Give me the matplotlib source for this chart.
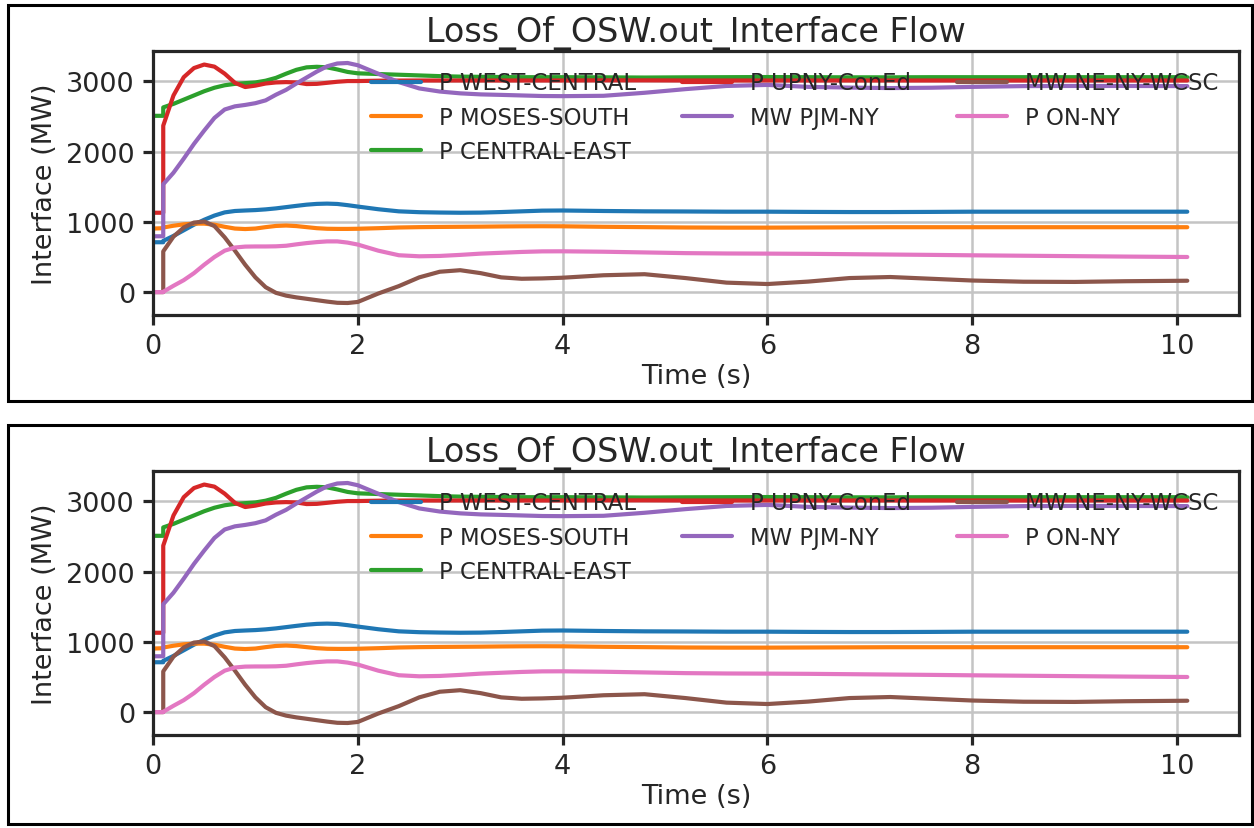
import numpy as np
import matplotlib
matplotlib.use("Agg")
import matplotlib.pyplot as plt
import seaborn as sns
from matplotlib.patches import Rectangle

sns.set_style("ticks", {"axes.grid": True})
plt.rcParams['font.family'] = ['DejaVu Sans']

# time base (s); 0.1 appears twice for the step at fault application
time_s = [0, 0.1, 0.1, 0.2, 0.3, 0.4, 0.5, 0.6, 0.7, 0.8, 0.9, 1.0, 1.1, 1.2, 1.3,
          1.4, 1.5, 1.6, 1.7, 1.8, 1.9, 2.0, 2.2, 2.4, 2.6, 2.8, 3.0, 3.2, 3.4, 3.6,
          3.8, 4.0, 4.4, 4.8, 5.2, 5.6, 6.0, 6.4, 6.8, 7.2, 7.6, 8.0, 8.5, 9.0, 9.5, 10.1]

west_central = [710, 710, 730, 800, 880, 960, 1030, 1090, 1135, 1155, 1162, 1168, 1178,
                1192, 1210, 1228, 1245, 1256, 1260, 1255, 1238, 1218, 1180, 1150, 1138,
                1133, 1130, 1132, 1140, 1150, 1160, 1162, 1155, 1150, 1148, 1145, 1145,
                1142, 1140, 1140, 1142, 1145, 1145, 1145, 1145, 1145]
moses_south = [905, 910, 920, 945, 965, 975, 975, 960, 930, 905, 898, 905, 925, 942, 948,
               940, 925, 910, 902, 900, 900, 902, 910, 920, 925, 928, 930, 932, 935, 937,
               938, 937, 930, 925, 920, 918, 918, 920, 922, 924, 924, 924, 924, 924, 924, 924]
central_east = [2510, 2510, 2630, 2680, 2740, 2800, 2860, 2910, 2945, 2965, 2975, 2985,
                3010, 3050, 3110, 3165, 3200, 3208, 3200, 3170, 3135, 3115, 3105, 3095,
                3085, 3075, 3068, 3065, 3062, 3060, 3060, 3060, 3058, 3055, 3058, 3060,
                3062, 3060, 3058, 3058, 3060, 3060, 3060, 3060, 3060, 3060]
upny_coned = [1130, 1130, 2370, 2800, 3060, 3190, 3240, 3210, 3110, 2980, 2920, 2940,
              2970, 2985, 2990, 2985, 2962, 2965, 2980, 2995, 3005, 3005, 3010, 3012,
              3013, 3013, 3013, 3013, 3013, 3013, 3013, 3013, 3015, 3015, 3013, 3013,
              3013, 3013, 3013, 3013, 3013, 3013, 3013, 3013, 3013, 3013]
pjm_ny = [795, 795, 1535, 1700, 1900, 2110, 2300, 2480, 2600, 2645, 2665, 2690, 2730,
          2810, 2880, 2970, 3055, 3140, 3215, 3255, 3262, 3230, 3109, 2990, 2900, 2856,
          2830, 2815, 2808, 2800, 2792, 2790, 2795, 2838, 2890, 2935, 2950, 2922, 2912,
          2905, 2910, 2922, 2933, 2935, 2935, 2933]
ne_ny_wcsc = [0, 0, 580, 790, 920, 990, 1005, 940, 780, 590, 390, 210, 70, -10, -50, -75,
              -95, -115, -135, -152, -155, -140, -20, 85, 210, 290, 312, 270, 210, 190,
              195, 205, 240, 255, 200, 135, 115, 150, 200, 215, 190, 165, 148, 145, 155, 162]
on_ny = [0, 0, 5, 90, 170, 270, 390, 500, 590, 635, 648, 650, 650, 652, 660, 680, 698,
         712, 722, 722, 705, 677, 590, 525, 510, 515, 530, 548, 560, 572, 580, 581, 575,
         565, 555, 550, 548, 545, 540, 535, 530, 524, 518, 512, 506, 500]

series = [
    ("P WEST-CENTRAL", west_central),
    ("P MOSES-SOUTH", moses_south),
    ("P CENTRAL-EAST", central_east),
    ("P UPNY-ConEd", upny_coned),
    ("MW PJM-NY", pjm_ny),
    ("MW NE-NY-WCSC", ne_ny_wcsc),
    ("P ON-NY", on_ny),
]
colors = sns.color_palette("tab10")
title = "Loss_Of_OSW.out_Interface Flow"

W, H = 1254, 829
fig = plt.figure(figsize=(W / 100, H / 100), dpi=100)

ink = "#262626"


def draw_panel(top_px):
    ax = fig.add_axes([153 / W, 1 - (top_px + 264) / H, 1086 / W, 264 / H])
    for (label, vals), c in zip(series, colors):
        ax.plot(time_s, vals, color=c, lw=3.0, label=label, solid_joinstyle="round")
    ax.set_xlim(left=0)
    ax.set_xticks([0, 2, 4, 6, 8, 10])
    ax.set_yticks([0, 1000, 2000, 3000])
    ax.grid(True, color="#c4c4c4", lw=1.8)
    for sp in ax.spines.values():
        sp.set_linewidth(2.3)
        sp.set_color(ink)
    ax.tick_params(labelsize=19.5, length=7, width=2.3, color=ink, labelcolor=ink, pad=6)
    ax.set_xlabel("Time (s)", fontsize=19.5, color=ink, labelpad=3)
    ax.set_ylabel("Interface (MW)", fontsize=19.5, color=ink, labelpad=6)
    ax.set_title(title, fontsize=24, color=ink, pad=7)
    ax.legend(loc="upper right", ncol=3, frameon=False, fontsize=16.4,
              handlelength=2.2, labelcolor=ink)
    return ax


draw_panel(52)
draw_panel(472)

# black frames round each panel
for y0, y1 in [(6, 402), (426, 825)]:
    fig.add_artist(Rectangle((8 / W, 1 - y1 / H), (1252 - 8) / W, (y1 - y0) / H,
                             transform=fig.transFigure, fill=False,
                             edgecolor="black", lw=2.2))

fig.savefig("out.png", dpi=100)
